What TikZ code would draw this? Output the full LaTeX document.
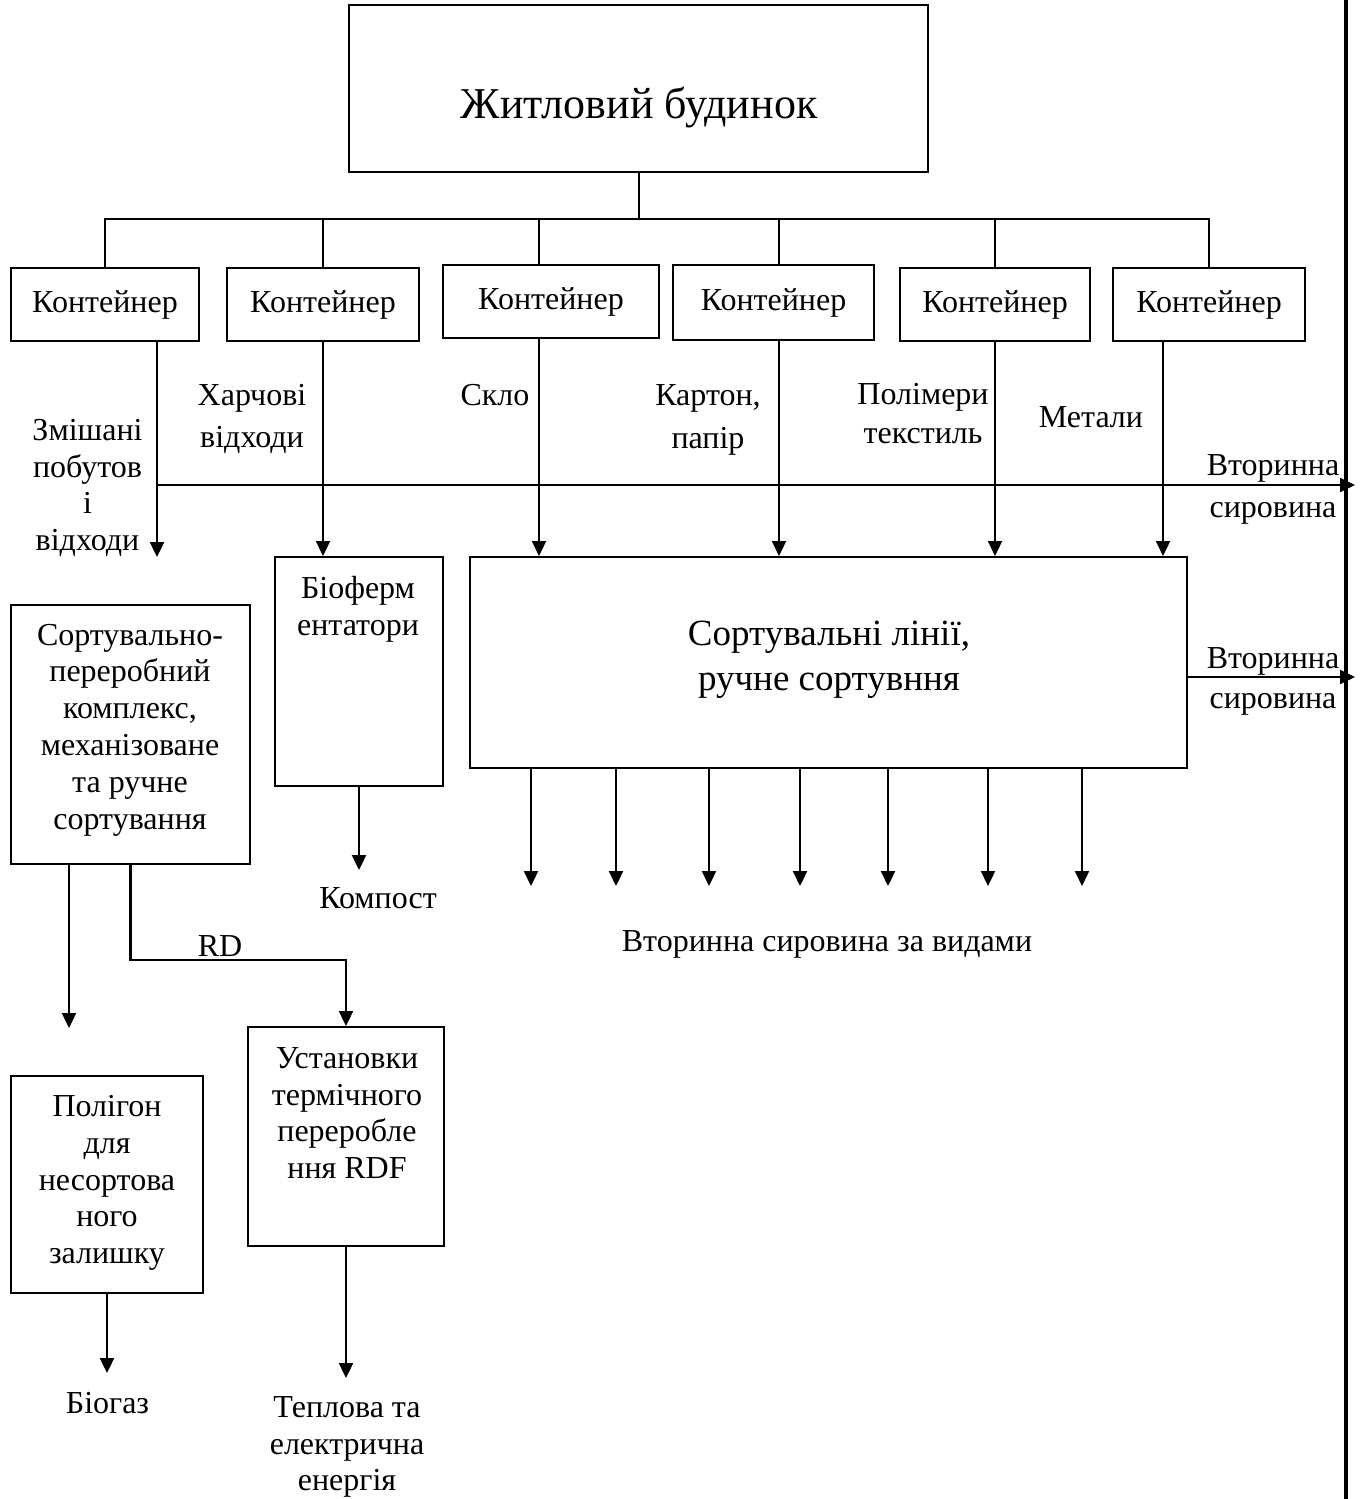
\documentclass[tikz,border=0pt]{standalone}
\usepackage{fontspec}
\setmainfont{Liberation Serif}
\usetikzlibrary{arrows.meta,positioning}

\begin{document}
\begin{tikzpicture}[x=1pt,y=-1pt,
  box/.style={draw,line width=2pt,inner sep=0pt},
  ln/.style={line width=2pt},
  arr/.style={line width=2.3pt,-{Triangle[width=14pt,length=15pt]}},
  txt/.style={font=\fontsize{32}{36.8}\selectfont,align=center,inner sep=0pt}]
\useasboundingbox (0,0) rectangle (1365,1499);

% house and containers
\node[box,minimum width=579pt,minimum height=167pt] (house) at (638.5,88.5) {};
\node[txt,font=\fontsize{44}{50}\selectfont,anchor=base] (houseT) at (639,118) {Житловий будинок};
\node[box,txt,minimum width=188pt,minimum height=73pt] (c1) at (105,304.5) {Контейнер};
\node[box,txt,minimum width=192pt,minimum height=73pt] (c2) at (323,304.5) {Контейнер};
\node[box,txt,minimum width=216pt,minimum height=73pt] (c3) at (551,301.5) {Контейнер};
\node[box,txt,minimum width=201pt,minimum height=75pt] (c4) at (773.5,302.5) {Контейнер};
\node[box,txt,minimum width=190pt,minimum height=73pt] (c5) at (995,304.5) {Контейнер};
\node[box,txt,minimum width=192pt,minimum height=73pt] (c6) at (1209,304.5) {Контейнер};

\draw[ln] (house.south) -- (house.south |- 0,219) coordinate (bus);
\draw[ln] (c1.north) -- (c1.north |- bus) -- (c6.north |- bus) -- (c6.north);
\foreach \n/\dx in {c2/0pt,c3/-12pt,c4/5.5pt,c5/0pt}
  \draw[ln] ([xshift=\dx]\n.north) -- ([xshift=\dx]\n.north |- bus);

% waste labels
\node[txt] (mixL) at (87.5,488) {Змішані\\побутов\\і\\відходи};
\node[txt,font=\fontsize{32}{42}\selectfont] (foodL) at (252,419) {Харчові\\відходи};
\node[txt,anchor=base] (glassL) at (495,405) {Скло};
\node[txt,font=\fontsize{32}{43}\selectfont] (paperL) at (708,420) {Картон,\\папір};
\node[txt,font=\fontsize{32}{39}\selectfont] (polyL) at (923,414) {Полімери\\текстиль};
\node[txt,anchor=base] (metL) at (1091,427) {Метали};
\node[txt,font=\fontsize{32}{42}\selectfont] (sec1L) at (1273,489) {Вторинна\\сировина};
\node[txt,font=\fontsize{32}{40}\selectfont] (sec2L) at (1273,681) {Вторинна\\сировина};

% processing boxes
\node[box,minimum width=168pt,minimum height=229pt] (bio) at (359,671.5) {};
\node[txt] (bioT) at (358,609) {Біоферм\\ентатори};
\node[box,minimum width=717pt,minimum height=211pt] (sort) at (828.5,662.5) {};
\node[txt,font=\fontsize{37}{45}\selectfont] (sortT) at (829,660) {Сортувальні лінії,\\ручне сортувння};
\node[box,minimum width=239pt,minimum height=259pt] (spk) at (130.5,734.5) {};
\node[txt] (spkT) at (130,730) {Сортувально-\\переробний\\комплекс,\\механізоване\\та ручне\\сортування};
\node[box,minimum width=192pt,minimum height=217pt] (poly) at (107,1184.5) {};
\node[txt] (polyT) at (107,1183) {Полігон\\для\\несортова\\ного\\залишку};
\node[box,minimum width=196pt,minimum height=219pt] (ust) at (346,1136.5) {};
\node[txt] (ustT) at (347,1113) {Установки\\термічного\\переробле\\ння RDF};

% outputs
\node[txt,anchor=base] (compL) at (378,908) {Компост};
\node[txt,anchor=base] (rdL) at (220,956) {RD};
\node[txt,anchor=base] (kindsL) at (827,951) {Вторинна сировина за видами};
\node[txt,anchor=base] (gasL) at (107.5,1413) {Біогаз};
\node[txt] (heatL) at (347,1447) {Теплова та\\електрична\\енергія};

% wall on the right
\coordinate (wallT) at (1346,0);
\coordinate (wallB) at (1346,1499);
\draw[line width=4.5pt] (wallT) -- (wallB);
\coordinate (out1) at (1355,485);
\coordinate (out2) at (1355,677);

% flows
\coordinate (mixTop) at ([xshift=52pt]c1.south);
\draw[arr] (mixTop) -- ++(0,215);
\draw[arr] (mixTop |- out1) -- (out1);
\draw[arr] (c2.south) -- (c2.south |- bio.north);
\foreach \n/\dx in {c3/-12pt,c4/5.5pt,c5/0pt,c6/-46pt}
  \draw[arr] ([xshift=\dx]\n.south) -- ([xshift=\dx]\n.south |- sort.north);
\draw[arr] (sort.east |- out2) -- (out2);
\foreach \x in {531,616,709,800,888,988,1082}
  \draw[arr] (sort.south -| \x,0) -- ++(0,117);
\draw[arr] (bio.south) -- ++(0,83);
\draw[arr] (spk.south -| 69,0) -- ++(0,163);
\draw[arr] (spk.south) -- (spk.south |- 0,960) -| (ust.north);
\draw[arr] (poly.south) -- ++(0,79);
\draw[arr] (ust.south) -- ++(0,131);
\end{tikzpicture}
\end{document}
